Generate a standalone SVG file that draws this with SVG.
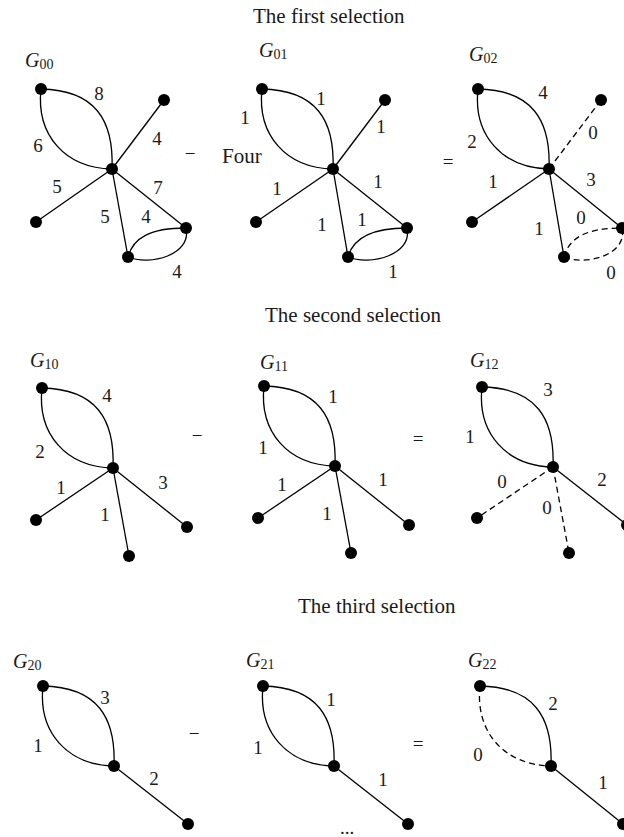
<svg xmlns="http://www.w3.org/2000/svg" width="624" height="837" viewBox="0 0 624 837">
<style>
  .e{fill:none;stroke:#000;stroke-width:1.3}
  .d{fill:none;stroke:#000;stroke-width:1.3;stroke-dasharray:6,4}
  .n{fill:#000}
  .t{font-family:"Liberation Serif","Times New Roman",serif;font-size:21px;fill:#1a1a1a}
  .w{font-family:"Liberation Serif","Times New Roman",serif;font-size:19px;fill:#1a1a1a;text-anchor:middle}
  .g{font-family:"Liberation Serif","Times New Roman",serif;font-size:20px;font-style:italic;fill:#1a1a1a}
  .s{font-size:14px;font-style:normal}
</style>
<rect width="624" height="837" fill="#fff"/>

<!-- titles and operators -->
<g id="titles">
  <text class="t" x="253" y="23">The first selection</text>
  <text class="t" x="265" y="322">The second selection</text>
  <text class="t" x="298" y="613">The third selection</text>
  <text class="w" x="190" y="160">−</text>
  <text class="t" x="222" y="163">Four</text>
  <text class="w" x="448" y="168">=</text>
  <text class="w" x="197" y="442">−</text>
  <text class="w" x="418" y="445">=</text>
  <text class="w" x="194" y="740">−</text>
  <text class="w" x="418" y="750">=</text>
  <text class="w" x="347" y="834">...</text>
</g>

<!-- graph labels -->
<g id="graph-labels">
  <text class="g" x="25" y="67">G<tspan class="s" dy="2">00</tspan></text>
  <text class="g" x="259" y="57">G<tspan class="s" dy="2">01</tspan></text>
  <text class="g" x="469" y="61">G<tspan class="s" dy="2">02</tspan></text>
  <text class="g" x="30" y="367">G<tspan class="s" dy="2">10</tspan></text>
  <text class="g" x="260" y="369">G<tspan class="s" dy="2">11</tspan></text>
  <text class="g" x="470" y="367">G<tspan class="s" dy="2">12</tspan></text>
  <text class="g" x="13" y="668">G<tspan class="s" dy="2">20</tspan></text>
  <text class="g" x="246" y="667">G<tspan class="s" dy="2">21</tspan></text>
  <text class="g" x="468" y="667">G<tspan class="s" dy="2">22</tspan></text>
</g>

<!-- connectors -->
<g id="connectors">
  <!-- G00 -->
  <path class="e" d="M41,89 c54,1 73,31 71,80"/>
  <path class="e" d="M41,89 c-5,46 24,79 71,80"/>
  <path class="e" d="M112,169 L164,100"/>
  <path class="e" d="M112,169 L36,222"/>
  <path class="e" d="M112,169 L128,257"/>
  <path class="e" d="M112,169 L186,228"/>
  <path class="e" d="M128,257 c5,-19 22,-29 58,-29"/>
  <path class="e" d="M128,257 c22,9 64,-2 58,-29"/>
  <!-- G01 -->
  <path class="e" d="M262,89 c54,1 73,31 71,80"/>
  <path class="e" d="M262,89 c-5,46 24,79 71,80"/>
  <path class="e" d="M333,169 L385,100"/>
  <path class="e" d="M333,169 L256,222"/>
  <path class="e" d="M333,169 L348,257"/>
  <path class="e" d="M333,169 L407,228"/>
  <path class="e" d="M348,257 c5,-19 23,-29 59,-29"/>
  <path class="e" d="M348,257 c22,9 65,-2 59,-29"/>
  <!-- G02 -->
  <path class="e" d="M478,89 c54,1 73,31 71,80"/>
  <path class="e" d="M478,89 c-5,46 24,79 71,80"/>
  <path class="d" d="M549,169 L601,100"/>
  <path class="e" d="M549,169 L472,222"/>
  <path class="e" d="M549,169 L564,257"/>
  <path class="e" d="M549,169 L622,228"/>
  <path class="d" d="M564,257 c5,-19 22,-29 58,-29"/>
  <path class="d" d="M564,257 c22,9 64,-2 58,-29"/>
  <!-- G10 -->
  <path class="e" d="M42,388 c54,1 73,31 71,80"/>
  <path class="e" d="M42,388 c-5,46 24,79 71,80"/>
  <path class="e" d="M113,468 L36,520"/>
  <path class="e" d="M113,468 L129,556"/>
  <path class="e" d="M113,468 L187,527"/>
  <!-- G11 -->
  <path class="e" d="M264,386 c54,1 73,31 71,80"/>
  <path class="e" d="M264,386 c-5,46 24,79 71,80"/>
  <path class="e" d="M335,466 L258,518"/>
  <path class="e" d="M335,466 L351,553"/>
  <path class="e" d="M335,466 L409,525"/>
  <!-- G12 -->
  <path class="e" d="M482,387 c54,1 73,31 71,80"/>
  <path class="e" d="M482,387 c-5,46 24,79 71,80"/>
  <path class="d" d="M553,467 L477,518"/>
  <path class="d" d="M553,467 L569,553"/>
  <path class="e" d="M553,467 L627,525"/>
  <!-- G20 -->
  <path class="e" d="M43,686 c54,1 73,31 71,80"/>
  <path class="e" d="M43,686 c-5,46 24,79 71,80"/>
  <path class="e" d="M114,766 L188,824"/>
  <!-- G21 -->
  <path class="e" d="M263,686 c54,1 73,31 71,80"/>
  <path class="e" d="M263,686 c-5,46 24,79 71,80"/>
  <path class="e" d="M334,766 L408,824"/>
  <!-- G22 -->
  <path class="e" d="M480,686 c54,1 73,31 71,80"/>
  <path class="d" d="M480,686 c-5,46 24,79 71,80"/>
  <path class="e" d="M551,766 L623,824"/>
</g>

<!-- edge weights -->
<g id="weights">
  <text class="w" x="99" y="100">8</text>
  <text class="w" x="38" y="152">6</text>
  <text class="w" x="157" y="145">4</text>
  <text class="w" x="57" y="193">5</text>
  <text class="w" x="158" y="194">7</text>
  <text class="w" x="105" y="223">5</text>
  <text class="w" x="146" y="223">4</text>
  <text class="w" x="177" y="278">4</text>

  <text class="w" x="321" y="105">1</text>
  <text class="w" x="245" y="124">1</text>
  <text class="w" x="381" y="133">1</text>
  <text class="w" x="277" y="195">1</text>
  <text class="w" x="378" y="188">1</text>
  <text class="w" x="322" y="231">1</text>
  <text class="w" x="362" y="226">1</text>
  <text class="w" x="393" y="278">1</text>

  <text class="w" x="543" y="99">4</text>
  <text class="w" x="472" y="148">2</text>
  <text class="w" x="593" y="139">0</text>
  <text class="w" x="493" y="188">1</text>
  <text class="w" x="591" y="186">3</text>
  <text class="w" x="581" y="224">0</text>
  <text class="w" x="539" y="235">1</text>
  <text class="w" x="611" y="279">0</text>

  <text class="w" x="107" y="402">4</text>
  <text class="w" x="40" y="458">2</text>
  <text class="w" x="61" y="494">1</text>
  <text class="w" x="105" y="521">1</text>
  <text class="w" x="163" y="489">3</text>

  <text class="w" x="333" y="403">1</text>
  <text class="w" x="263" y="454">1</text>
  <text class="w" x="282" y="491">1</text>
  <text class="w" x="327" y="520">1</text>
  <text class="w" x="383" y="486">1</text>

  <text class="w" x="548" y="396">3</text>
  <text class="w" x="470" y="443">1</text>
  <text class="w" x="502" y="488">0</text>
  <text class="w" x="547" y="514">0</text>
  <text class="w" x="602" y="486">2</text>

  <text class="w" x="105" y="704">3</text>
  <text class="w" x="38" y="752">1</text>
  <text class="w" x="154" y="785">2</text>

  <text class="w" x="331" y="706">1</text>
  <text class="w" x="258" y="754">1</text>
  <text class="w" x="383" y="786">1</text>

  <text class="w" x="553" y="710">2</text>
  <text class="w" x="478" y="761">0</text>
  <text class="w" x="603" y="789">1</text>
</g>

<!-- nodes -->
<g id="G00-tl"><circle class="n" cx="41" cy="89" r="6"/></g>
<g id="G00-c"><circle class="n" cx="112" cy="169" r="6"/></g>
<g id="G00-tr"><circle class="n" cx="164" cy="100" r="6"/></g>
<g id="G00-l"><circle class="n" cx="36" cy="222" r="6"/></g>
<g id="G00-b"><circle class="n" cx="128" cy="257" r="6"/></g>
<g id="G00-r"><circle class="n" cx="186" cy="228" r="6"/></g>

<g id="G01-tl"><circle class="n" cx="262" cy="89" r="6"/></g>
<g id="G01-c"><circle class="n" cx="333" cy="169" r="6"/></g>
<g id="G01-tr"><circle class="n" cx="385" cy="100" r="6"/></g>
<g id="G01-l"><circle class="n" cx="256" cy="222" r="6"/></g>
<g id="G01-b"><circle class="n" cx="348" cy="257" r="6"/></g>
<g id="G01-r"><circle class="n" cx="407" cy="228" r="6"/></g>

<g id="G02-tl"><circle class="n" cx="478" cy="89" r="6"/></g>
<g id="G02-c"><circle class="n" cx="549" cy="169" r="6"/></g>
<g id="G02-tr"><circle class="n" cx="601" cy="100" r="6"/></g>
<g id="G02-l"><circle class="n" cx="472" cy="222" r="6"/></g>
<g id="G02-b"><circle class="n" cx="564" cy="257" r="6"/></g>
<g id="G02-r"><circle class="n" cx="622" cy="228" r="6"/></g>

<g id="G10-tl"><circle class="n" cx="42" cy="388" r="6"/></g>
<g id="G10-c"><circle class="n" cx="113" cy="468" r="6"/></g>
<g id="G10-l"><circle class="n" cx="36" cy="520" r="6"/></g>
<g id="G10-b"><circle class="n" cx="129" cy="556" r="6"/></g>
<g id="G10-r"><circle class="n" cx="187" cy="527" r="6"/></g>

<g id="G11-tl"><circle class="n" cx="264" cy="386" r="6"/></g>
<g id="G11-c"><circle class="n" cx="335" cy="466" r="6"/></g>
<g id="G11-l"><circle class="n" cx="258" cy="518" r="6"/></g>
<g id="G11-b"><circle class="n" cx="351" cy="553" r="6"/></g>
<g id="G11-r"><circle class="n" cx="409" cy="525" r="6"/></g>

<g id="G12-tl"><circle class="n" cx="482" cy="387" r="6"/></g>
<g id="G12-c"><circle class="n" cx="553" cy="467" r="6"/></g>
<g id="G12-l"><circle class="n" cx="477" cy="518" r="6"/></g>
<g id="G12-b"><circle class="n" cx="569" cy="553" r="6"/></g>
<g id="G12-r"><circle class="n" cx="627" cy="525" r="6"/></g>

<g id="G20-tl"><circle class="n" cx="43" cy="686" r="6"/></g>
<g id="G20-c"><circle class="n" cx="114" cy="766" r="6"/></g>
<g id="G20-br"><circle class="n" cx="188" cy="824" r="6"/></g>

<g id="G21-tl"><circle class="n" cx="263" cy="686" r="6"/></g>
<g id="G21-c"><circle class="n" cx="334" cy="766" r="6"/></g>
<g id="G21-br"><circle class="n" cx="408" cy="824" r="6"/></g>

<g id="G22-tl"><circle class="n" cx="480" cy="686" r="6"/></g>
<g id="G22-c"><circle class="n" cx="551" cy="766" r="6"/></g>
<g id="G22-br"><circle class="n" cx="623" cy="824" r="6"/></g>
</svg>
